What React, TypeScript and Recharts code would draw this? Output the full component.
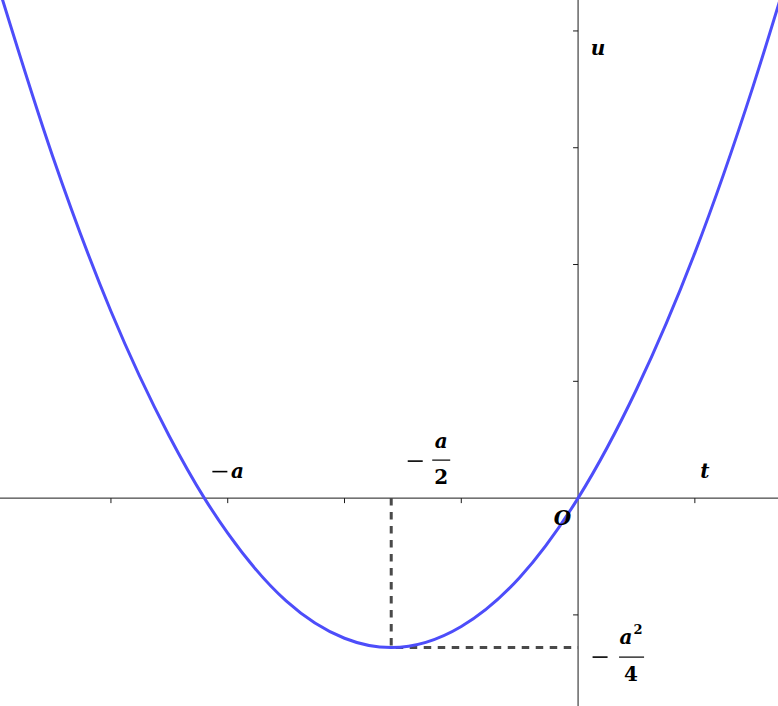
import { LineChart, Line, XAxis, YAxis, ReferenceLine, ReferenceDot } from "recharts";

// points (t, u)
const tValues = [-5, -4.5, -4, -3.5, -3.2, -3, -2.5, -2, -1.6, -1, -0.5, 0, 0.5, 1, 1.5, 1.8];
const uValues = [4.5, 2.93, 1.6, 0.53, 0, -0.3, -0.88, -1.2, -1.28, -1.1, -0.68, 0, 0.93, 2.1, 3.53, 4.5];

const xTicks = [-4, -3, -2, -1, 1];
const yTicks = [-1, 1, 2, 3, 4];

const rootT = -3.2;
const vertexT = -1.6;
const vertexU = -1.28;

// dashed guide: axis -> vertex -> axis
const guideT = [vertexT, vertexT, 0];
const guideU = [0, vertexU, vertexU];

const X_DOMAIN: [number, number] = [-4.95, 1.712];
const Y_DOMAIN: [number, number] = [-1.78, 4.265];

const W = 778;
const H = 706;

const CURVE = "#4d4dfa";
const AXIS = "#1a1a1a";
const DASH = "#4a4a4a";
const FONT = "'DejaVu Serif', 'Liberation Serif', serif";

const data = tValues.map((t, i) => ({ t, u: uValues[i] }));
const guide = guideT.map((t, i) => ({ t, u: guideU[i] }));

const mathText = {
  fontFamily: FONT,
  fontSize: 20,
  fontWeight: 700,
  fill: "#000",
} as const;

function TickDown(p: any) {
  return <line x1={p.cx} y1={p.cy} x2={p.cx} y2={p.cy + 5} stroke={AXIS} strokeWidth={1} />;
}

function TickLeft(p: any) {
  return <line x1={p.cx - 5} y1={p.cy} x2={p.cx} y2={p.cy} stroke={AXIS} strokeWidth={1} />;
}

function Minus({ x, y }: { x: number; y: number }) {
  return <line x1={x - 7.5} x2={x + 7.5} y1={y} y2={y} stroke="#000" strokeWidth={1.6} />;
}

function label(text: string, dx: number, dy: number, anchor: "start" | "middle" | "end" = "start") {
  return (p: any) => (
    <text x={p.cx + dx} y={p.cy + dy} textAnchor={anchor} {...mathText} fontStyle="italic">
      {text}
    </text>
  );
}

function RootLabel(p: any) {
  const x = p.cx;
  const y = p.cy;
  return (
    <g>
      <Minus x={x + 15.5} y={y - 26.5} />
      <text x={x + 33} y={y - 20} textAnchor="middle" {...mathText} fontStyle="italic">a</text>
    </g>
  );
}

function HalfLabel(p: any) {
  const x = p.cx;
  const y = p.cy;
  return (
    <g>
      <Minus x={x + 24} y={y - 37} />
      <text x={x + 50} y={y - 50} textAnchor="middle" {...mathText} fontStyle="italic">a</text>
      <line x1={x + 41} x2={x + 59} y1={y - 38} y2={y - 38} stroke="#000" strokeWidth={1.2} />
      <text x={x + 50} y={y - 14} textAnchor="middle" {...mathText}>2</text>
    </g>
  );
}

function QuarterLabel(p: any) {
  const x = p.cx;
  const y = p.cy;
  return (
    <g>
      <Minus x={x + 22} y={y + 9.5} />
      <text x={x + 48} y={y - 4} textAnchor="middle" {...mathText} fontStyle="italic">a</text>
      <text x={x + 60} y={y - 14} textAnchor="middle" {...mathText} fontSize={13}>2</text>
      <line x1={x + 41} x2={x + 66} y1={y + 9.5} y2={y + 9.5} stroke="#000" strokeWidth={1.2} />
      <text x={x + 53} y={y + 33} textAnchor="middle" {...mathText}>4</text>
    </g>
  );
}

export default function App() {
  return (
    <div style={{ position: "absolute", left: 0, top: 0, width: W, height: H, background: "#fff" }}>
      <LineChart width={W} height={H} data={data} margin={{ top: 0, right: 0, bottom: 0, left: 0 }}>
        <XAxis dataKey="t" type="number" domain={X_DOMAIN} allowDataOverflow hide />
        <YAxis type="number" domain={Y_DOMAIN} allowDataOverflow hide />
        <ReferenceLine x={0} stroke={AXIS} strokeWidth={1} />
        <ReferenceLine y={0} stroke={AXIS} strokeWidth={1} />
        {xTicks.map((t) => (
          <ReferenceDot key={"xt" + t} x={t} y={0} r={0} shape={TickDown} />
        ))}
        {yTicks.map((u) => (
          <ReferenceDot key={"yt" + u} x={0} y={u} r={0} shape={TickLeft} />
        ))}
        <Line
          data={guide}
          type="linear"
          dataKey="u"
          stroke={DASH}
          strokeWidth={3}
          strokeDasharray="7.5 6.5"
          dot={false}
          activeDot={false}
          isAnimationActive={false}
        />
        <Line
          type="monotone"
          dataKey="u"
          stroke={CURVE}
          strokeWidth={3}
          dot={false}
          isAnimationActive={false}
        />
        <ReferenceDot x={rootT} y={0} r={0} shape={RootLabel} />
        <ReferenceDot x={xTicks[4]} y={0} r={0} shape={label("t", 10, -20, "middle")} />
        <ReferenceDot x={0} y={yTicks[4]} r={0} shape={label("u", 20, 24, "middle")} />
        <ReferenceDot x={0} y={0} r={0} shape={label("O", -7, 27, "end")} />
        <ReferenceDot x={vertexT} y={0} r={0} shape={HalfLabel} />
        <ReferenceDot x={0} y={vertexU} r={0} shape={QuarterLabel} />
      </LineChart>
    </div>
  );
}
